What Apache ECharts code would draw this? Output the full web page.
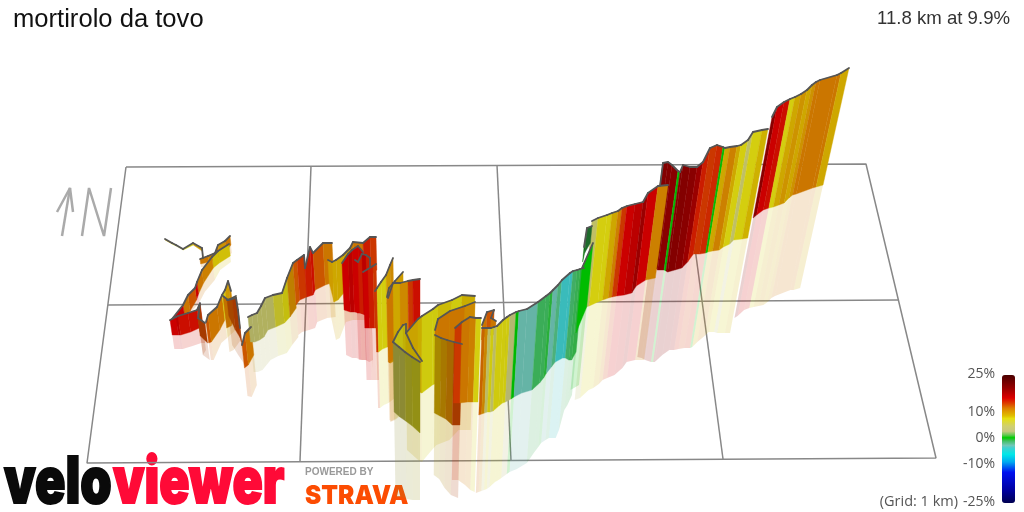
<!DOCTYPE html>
<html><head><meta charset="utf-8">
<style>html,body{margin:0;padding:0;background:#fff}#c{width:1024px;height:512px}</style>
<script src="https://cdn.jsdelivr.net/npm/echarts@6/dist/echarts.min.js"></script>
</head><body><div id="c"></div>
<script>
// Each station: [x along the view, wall top, wall foot, reflection foot, grade %]
const secTrail=[[165,239,240,240,9],[172,243,244,244,8],[176,245,246,246,5],[183,249,250,250,8],[193,243,245,245,10],[202,248,251,252,11],[203,258,262,263,11]];
const secUpper=[[200,259,264,267,12],[208,256,262,267,11.5],[215,253,259,265,12],[218,245,257,262,10.5],[225,241,251,258,12],[230,236,245,253,10]];
const secDescent=[[229,244,256,262,8.5],[218,251,263,270,8.5],[212,257,268,280,11.5],[202,270,283,292,12],[197,282,294,302,16],[195,288,300,305,13],[188,295,311,313,12],[183,305,319,322,16],[172,319,330,335,16]];
const secRedStart=[[170,320,335,349,16],[176,317,335,349,17],[178,316,335,349,15.5],[188,313,332,346,15.5],[197,310,328,343,15],[200,303,328,343,15]];
const secBrown=[[200,304,330,350,13.5],[198,318,336,355,13.5],[205,323,343,360,13.5]];
const secSpike=[[206,322,343,360,13],[208,315,342,360,12],[217,307,330,343,12],[222,295,320,338,8],[225,290,314,335,10],[228,281,312,332,11],[231,291,310,330,10]];
const secNotch=[[223,296,328,352,12],[228,300,326,350,12],[236,296,312,340,12]];
const secBack=[[227,300,316,345,13],[232,299,330,355,13.5],[236,298,338,362,14],[238,310,342,365,13],[240,328,346,367,14]];
const secDip=[[242,345,368,396,13],[245,333,365,397,12],[251,327,355,385,10.5]];
const secOlive=[[248,317,342,372,4.5],[252,315,342,372,4.5],[257,313,340,370,5],[261,306,337,365,5],[265,298,330,360,5],[273,295,327,356,7],[282,293,323,353,8],[287,278,317,345,11],[293,263,308,337,11]];
const secRise=[[293,263,305,335,13],[297,260,300,332,14],[304,255,297,330,14.5],[305,268,297,330,15],[310,247,295,328,15.5],[313,253,290,322,13],[323,243,285,318,12],[332,243,282,317,12.5]];
const secCrest=[[328,260,283,317,10],[332,262,302,340,9.5],[336,260,300,338,9.5],[343,255,292,322,9.5],[350,248,285,320,11.5],[353,242,285,320,12],[363,243,280,320,15],[370,237,275,315,14],[376,237,270,310,12.5]];
const secRedA=[[342,263,310,355,16],[348,254,312,358,17],[352,250,312,358,16],[358,246,313,360,16],[363,252,315,360,18]];
const secRedB=[[355,260,313,360,16],[358,262,313,360,15],[362,254,314,360,17],[366,255,316,362,15],[370,258,320,360,15.5],[370,267,325,370,14]];
const secRedC=[[363,272,328,380,16],[368,269,328,380,15],[373,266,328,380,14],[376,264,328,380,12.5]];
const secLoopA=[[375,291,352,408,14],[377,288,352,408,8],[381,282,349,405,8],[386,275,347,403,10],[390,265,345,400,11],[393,258,342,398,9.5]];
const secLoopB=[[387,297,362,420,12],[389,288,363,421,11],[395,281,360,418,10],[403,272,350,410,9.5]];
const secLoopC=[[388,298,363,422,12],[393,283,358,420,9.5],[400,283,345,415,11],[408,281,335,410,14],[413,280,325,400,15.5],[420,279,318,390,15]];
const secYellow=[[406,333,380,450,9.5],[418,319,392,460,9],[422,316,393,462,8],[433,309,385,450,8],[438,305,383,445,8.5],[452,300,375,440,8],[462,295,370,430,9],[475,296,365,430,9]];
const secInner=[[393,342,342,342,8],[398,332,347,347,8],[403,325,350,350,8.5],[406,324,352,352,9],[406,333,353,353,9],[413,348,357,357,9],[422,361,362,362,9]];
const secOliveWall=[[393,342,412,497,6],[399,347,417,497,6],[405,352,421,499,7],[412,357,426,500,7.5],[420,362,433,500,8]];
const secOrangeBack=[[435,330,337,337,12],[438,319,339,339,12],[450,311,345,345,12],[465,306,340,340,11],[475,302,325,325,9.5]];
const secFront=[[435,335,413,475,9.5],[441,338,416,479,10.5],[447,340,419,488,11.5],[454,342,425,495,13.5],[462,344,425,498,14]];
const secNext=[[455,328,403,480,14],[462,322,403,480,12],[470,317,402,485,11.5],[476,318,402,490,8],[481,318,402,492,8]];
const secKnob=[[482,325,340,340,12],[487,312,335,335,13],[494,310,335,335,13],[491,318,335,335,12],[496,321,335,335,12]];
const secBlues=[[482,328,415,493,12.5],[485,328,414,492,11],[488,328,413,491,5],[491,328,412,490,8],[494,327,412,489,5],[497,326,411,487,8],[503,320,406,482,8],[507,317,403,480,8],[510,315,402,478,3.5],[516,312,399,474,0.5],[519,311,397,472,-2.5],[527,309,393,469,-2.5],[538,302,390,463,-0.8],[546,296,383,452,-0.8],[550,293,378,447,-0.3],[553,290,373,443,-2.5],[558,285,367,440,-1.5],[562,280,362,438,-3.5],[570,273,358,438,-3.5],[573,271,358,430,-1],[577,270,360,410,-0.7],[580,269,360,405,-0.5],[584,268,352,395,-0.5]];
const secGreenBack=[[584,247,262,262,0.3],[587,228,253,253,-0.5],[592,226,243,243,-1]];
const secGreen=[[582,268,333,390,0.5],[593,243,307,385,0.5]];
const secMidRed=[[592,221,308,400,5],[598,218,306,398,8],[607,215,302,390,8],[612,213,300,388,9.5],[618,211,298,384,11.5],[622,208,297,380,14],[627,206,296,378,16],[635,204,295,375,17],[643,202,293,368,19],[648,193,286,362,16],[658,186,280,360,11.5],[668,185,278,360,11.5]];
const secDarkRed=[[660,186,262,355,11.5],[663,163,265,357,20.5],[668,162,267,358,20.5],[672,165,270,360,20],[678,171,270,362,0.5],[680,172,271,362,20.5],[683,165,272,362,20.5],[690,167,270,355,20],[697,167,268,350,19],[703,162,262,350,15],[710,148,254,349,14],[717,145,254,348,14.5],[723,147,253,348,0.5],[725,148,252,347,9.5],[730,147,251,342,11.5],[737,146,250,336,9.5],[741,145,247,332,8],[748,140,244,332,5],[753,132,240,333,8],[762,130,239,333,9],[768,129,238,333,9.5]];
const secSummit=[[772,117,218,318,20],[777,107,215,316,16],[784,102,210,310,15.5],[790,99,208,308,8],[795,97,207,307,9.5],[801,94,205,306,10.5],[807,90,203,305,9.5],[812,85,198,302,10.5],[816,82,195,298,12],[820,80,194,296,12],[837,75,188,290,12],[841,73,187,290,9.5],[849,68,185,288,9.5]];

const wallOrder=[[secTrail,0.08],[secUpper,0.08],[secDescent,0.08],[secRedStart,0.08],[secBrown,0.25],[secSpike,0.08],[secNotch,0.12],[secBack,0.25],[secDip,0.08],[secOlive,0.15],[secRise,0.08],[secCrest,0.08],[secRedA,0.08],[secRedB,0.08],[secRedC,0.08],[secLoopA,0.08],[secLoopB,0.08],[secLoopC,0.08],[secYellow,0.1],[secOrangeBack,0.08],[secInner,0.15],[secOliveWall,0.35],[secFront,0.25],[secNext,0.08],[secKnob,0.08],[secBlues,0.1],[secSummit,0.08],[secDarkRed,0.08],[secMidRed,0.08],[secGreenBack,0.45],[secGreen,0.08]];

const gradeStops=[[-25,'#000050'],[-20,'#0000a0'],[-13,'#0010f0'],[-9,'#00a8f0'],[-6,'#00e8e8'],[-3.5,'#40d0d0'],[-2.5,'#70c8b8'],[-1,'#48c070'],[-0.3,'#30c040'],[0.5,'#00cc00'],[1.5,'#60c850'],[3,'#c6c880'],[5,'#d0d070'],[8,'#e6e010'],[9,'#e0c000'],[10,'#e0aa00'],[12,'#dd8000'],[14,'#dd3c00'],[16,'#dd0000'],[20,'#950000'],[25,'#4a0000']];
const legendTicks=[[25,'25%'],[10,'10%'],[0,'0%'],[-10,'-10%'],[-25,'-25%']];
const gridLoop=[[126,167],[866,164],[936,458],[87,463],[126,167]];
const gridAcross=[[108,305],[898,300]];
const gridDownA=[[311,166],[300,461]];
const gridDownB=[[497,165],[511,460]];
const gridDownC=[[684,165],[723,459]];
const northShaft=[[62,236],[70,188]];
const northHead=[[57,212],[70,188],[73,212]];
const northN=[[82,236],[89,188],[104,236],[111,188]];

const vanish=[420,2000];
const atHeight=(x,yTop,y)=>vanish[0]+(x-vanish[0])*(vanish[1]-y)/(vanish[1]-yTop);
const rows=[];
wallOrder.forEach(([sec,shade])=>{
  for(let i=0;i<sec.length-1;i++){
    const a=sec[i],b=sec[i+1];
    rows.push([a[0],a[1],a[2],a[3],b[0],b[1],b[2],b[3],a[4],shade]);
  }
});
function hex(c){return [1,3,5].map(i=>parseInt(c.substr(i,2),16));}
function colorAt(g){
  for(let i=0;i<gradeStops.length-1;i++){
    const [g0,c0]=gradeStops[i],[g1,c1]=gradeStops[i+1];
    if(g<=g1){const t=(g-g0)/(g1-g0),p=hex(c0),q=hex(c1);
      return 'rgb('+p.map((v,k)=>Math.round(v+(q[k]-v)*t)).join(',')+')';}
  }
  return gradeStops[gradeStops.length-1][1];
}
const ramp=[];for(let g=-25;g<=25;g+=0.5)ramp.push(colorAt(g));
function darken(c,s){
  const p=echarts.color.parse(c);
  return 'rgb('+[0,1,2].map(i=>Math.round(p[i]*(1-s))).join(',')+')';
}
function poly(api,pts,style){
  return {type:'polygon',shape:{points:pts.map(p=>api.coord(p))},style:style,silent:true};
}
function renderReflect(params,api){
  const v=i=>api.value(i);
  const col=darken(api.visual('color'),v(9));
  return poly(api,[[atHeight(v(0),v(1),v(2)),v(2)],[atHeight(v(4),v(5),v(6)),v(6)],[atHeight(v(4),v(5),v(7)),v(7)],[atHeight(v(0),v(1),v(3)),v(3)]],{fill:col,opacity:0.18});
}
function renderWall(params,api){
  const v=i=>api.value(i);
  const col=darken(api.visual('color'),v(9));
  const t0=api.coord([v(0),v(1)]),t1=api.coord([v(4),v(5)]);
  return {type:'group',children:[
    poly(api,[[v(0),v(1)],[v(4),v(5)],[atHeight(v(4),v(5),v(6)),v(6)],[atHeight(v(0),v(1),v(2)),v(2)]],{fill:col,stroke:col,lineWidth:0.4}),
    {type:'line',shape:{x1:t0[0],y1:t0[1],x2:t1[0],y2:t1[1]},style:{stroke:'#555',lineWidth:1.8,lineCap:'round'},silent:true,z2:5}
  ]};
}
const lineSeries=(pts,color,width)=>({type:'line',data:pts,symbol:'none',silent:true,animation:false,lineStyle:{color:color,width:width},z:1});
const txt=(x,y,s,o)=>({type:'text',x:x,y:y,silent:true,style:Object.assign({text:s,fontFamily:'"Liberation Sans"',fill:'#222'},o)});

const chart=echarts.init(document.getElementById('c'),null,{renderer:'canvas'});
const legTop=375,legH=128;
chart.setOption({
  animation:false,
  backgroundColor:'#fff',
  grid:{left:0,right:0,top:0,bottom:0},
  xAxis:{type:'value',min:0,max:1024,show:false},
  yAxis:{type:'value',min:0,max:512,inverse:true,show:false},
  visualMap:{type:'continuous',min:-25,max:25,dimension:8,seriesIndex:[0,1],inRange:{color:ramp},
    left:1002,top:legTop,itemWidth:13,itemHeight:legH,padding:0,text:null,calculable:false,hoverLink:false,realtime:false,showLabel:false},
  series:[
    {type:'custom',coordinateSystem:'cartesian2d',data:rows,renderItem:renderReflect,silent:true,z:2,clip:false,encode:{x:0,y:1}},
    {type:'custom',coordinateSystem:'cartesian2d',data:rows,renderItem:renderWall,silent:true,z:3,clip:false,encode:{x:0,y:1}},
    lineSeries(gridLoop,'#888',1.5),lineSeries(gridAcross,'#888',1.5),lineSeries(gridDownA,'#888',1.5),lineSeries(gridDownB,'#888',1.5),lineSeries(gridDownC,'#888',1.5),
    lineSeries(northShaft,'#aaa',2.5),lineSeries(northHead,'#aaa',2.5),lineSeries(northN,'#aaa',2.5)
  ],
  graphic:[
    txt(13,7,'mortirolo da tovo',{fontSize:25.6,fill:'#111'}),
    txt(1010,9,'11.8 km at 9.9%',{fontSize:18.6,align:'right',fill:'#333'}),
    ...legendTicks.map(([g,s])=>txt(995,legTop+legH*(25-g)/50-8,s,{fontSize:14,align:'right',fontFamily:'"Open Sans"',fill:'#555'})),
    txt(958,494,'(Grid: 1 km)',{fontSize:14.5,align:'right',fontFamily:'"Open Sans"',fill:'#555'}),
    {type:'text',x:4,y:452,scaleX:0.785,silent:true,style:{text:'velo',fontFamily:'Inter',fontWeight:900,fontSize:64,fill:'#0a0a0a',stroke:'#0a0a0a',lineWidth:2}},
    {type:'text',x:113,y:452,scaleX:0.78,silent:true,style:{text:'viewer',fontFamily:'Inter',fontWeight:900,fontSize:64,fill:'#ff0a37',stroke:'#ff0a37',lineWidth:2}},
    {type:'text',x:305,y:467,silent:true,style:{text:'POWERED BY',fontFamily:'"Liberation Sans"',fontWeight:'bold',fontSize:10,fill:'#999'}},
    {type:'text',x:305,y:483,scaleX:0.94,silent:true,style:{text:'STRAVA',fontFamily:'Inter',fontWeight:900,fontSize:26,fill:'#fc4c02'}}
  ]
});
</script></body></html>
